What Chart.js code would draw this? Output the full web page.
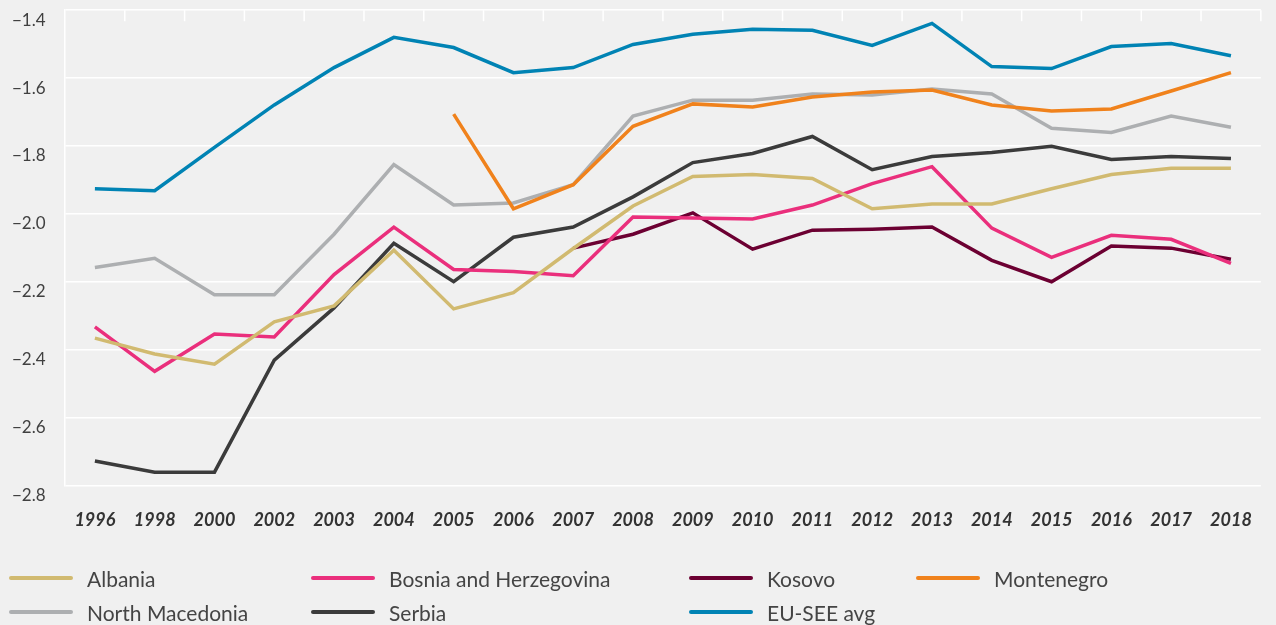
<html lang="en">
<head>
<meta charset="UTF-8">
<script src="https://cdn.jsdelivr.net/npm/chart.js@4.4.1/dist/chart.umd.min.js"></script>
<title>Chart</title>
<style>
  body { margin: 0; background: #f0f0f0; font-family: Lato, sans-serif; }
  #wrap { position: relative; width: 1276px; height: 562px; }
  #legend { position: absolute; left: 0; top: 561px; width: 1276px; height: 64px; }
  .item { position: absolute; height: 34px; display: flex; align-items: center; font-size: 21px; color: #444; white-space: nowrap; }
  .item span.sw { display: inline-block; width: 64px; height: 4px; border-radius: 2px; margin-right: 14px; }
</style>
</head>
<body>
<div id="wrap"><canvas id="chart"></canvas></div>
<div id="legend"></div>

<script>
const years = ['1996','1998','2000','2002','2003','2004','2005','2006','2007','2008','2009','2010','2011','2012','2013','2014','2015','2016','2017','2018'];
const yTicks = [-1.4, -1.6, -1.8, -2.0, -2.2, -2.4, -2.6, -2.8];

const albania = [-2.366,-2.413,-2.443,-2.318,-2.271,-2.107,-2.280,-2.232,-2.102,-1.977,-1.890,-1.884,-1.896,-1.985,-1.971,-1.971,-1.926,-1.884,-1.866,-1.866];
const bosnia = [-2.333,-2.464,-2.354,-2.363,-2.179,-2.039,-2.164,-2.170,-2.182,-2.009,-2.012,-2.015,-1.974,-1.911,-1.861,-2.042,-2.128,-2.063,-2.075,-2.146];
const kosovo = [null,null,null,null,null,null,null,null,-2.101,-2.060,-1.997,-2.104,-2.048,-2.045,-2.039,-2.137,-2.200,-2.095,-2.101,-2.134];
const montenegro = [null,null,null,null,null,null,-1.706,-1.985,-1.914,-1.742,-1.676,-1.685,-1.656,-1.641,-1.635,-1.679,-1.697,-1.691,-1.638,-1.584];
const northMacedonia = [-2.158,-2.131,-2.238,-2.238,-2.060,-1.855,-1.974,-1.968,-1.914,-1.712,-1.665,-1.665,-1.647,-1.650,-1.632,-1.647,-1.748,-1.760,-1.712,-1.745];
const serbia = [-2.728,-2.761,-2.761,-2.431,-2.277,-2.087,-2.200,-2.069,-2.039,-1.950,-1.849,-1.822,-1.772,-1.870,-1.831,-1.819,-1.801,-1.840,-1.831,-1.837];
const euSee = [-1.926,-1.932,-1.804,-1.679,-1.569,-1.480,-1.510,-1.584,-1.569,-1.501,-1.471,-1.456,-1.459,-1.504,-1.439,-1.566,-1.572,-1.507,-1.498,-1.534];

const series = [
  { label: 'Albania', data: albania, color: '#d1ba70', left: 9, row: 0 },
  { label: 'Bosnia and Herzegovina', data: bosnia, color: '#ea2f7c', left: 311, row: 0 },
  { label: 'Kosovo', data: kosovo, color: '#6c0032', left: 689, row: 0 },
  { label: 'Montenegro', data: montenegro, color: '#f0821c', left: 916, row: 0 },
  { label: 'North Macedonia', data: northMacedonia, color: '#adafb1', left: 9, row: 1 },
  { label: 'Serbia', data: serbia, color: '#3b3b3b', left: 311, row: 1 },
  { label: 'EU-SEE avg', data: euSee, color: '#0083b4', left: 689, row: 1 }
];

// small tick marks hanging from the top edge between categories
const topTicks = {
  id: 'topTicks',
  beforeDatasetsDraw(chart) {
    const xs = chart.scales.x, area = chart.chartArea, ctx = chart.ctx;
    const step = (area.right - area.left) / years.length;
    ctx.save();
    ctx.strokeStyle = '#ffffff';
    ctx.lineWidth = 1.5;
    for (let i = 0; i < years.length; i++) {
      const x = xs.getPixelForValue(i) + step / 2;
      ctx.beginPath();
      ctx.moveTo(x, area.top);
      ctx.lineTo(x, area.top + 11);
      ctx.stroke();
    }
    ctx.restore();
  }
};

const ctx = document.getElementById('chart').getContext('2d');
new Chart(ctx, {
  type: 'line',
  data: {
    labels: years,
    datasets: series.map(s => ({
      label: s.label,
      data: s.data,
      borderColor: s.color,
      backgroundColor: s.color,
      borderWidth: 3.5,
      pointRadius: 0,
      tension: 0,
      spanGaps: false
    }))
  },
  options: {
    responsive: true,
    maintainAspectRatio: false,
    animation: false,
    layout: { padding: { left: 12, top: 10, right: 7, bottom: 7 } },
    plugins: { legend: { display: false }, tooltip: { enabled: false } },
    scales: {
      x: {
        offset: true,
        grid: { display: false, drawTicks: false },
        border: { display: false },
        ticks: {
          padding: 24,
          color: '#333',
          font: { family: 'Lato', size: 18, style: 'italic', weight: 'bold' },
          maxRotation: 0,
          autoSkip: false
        }
      },
      y: {
        min: -2.8,
        max: -1.4,
        afterBuildTicks: scale => { scale.ticks = yTicks.map(v => ({ value: v })); },
        afterFit: scale => { scale.width = 53; },
        grid: { color: '#ffffff', lineWidth: 1.5, drawTicks: false },
        border: { display: true, color: '#ffffff', width: 1.5 },
        ticks: {
          crossAlign: 'far',
          labelOffset: 10,
          padding: 0,
          color: '#404040',
          font: { family: 'Lato', size: 17 },
          callback: v => '\u2212' + Math.abs(v).toFixed(1)
        }
      }
    }
  },
  plugins: [topTicks]
});

const legend = document.getElementById('legend');
series.forEach(s => {
  const d = document.createElement('div');
  d.className = 'item';
  d.style.left = s.left + 'px';
  d.style.top = (s.row * 34) + 'px';
  d.innerHTML = '<span class="sw" style="background:' + s.color + '"></span>' + s.label;
  legend.appendChild(d);
});
</script>
</body>
</html>
